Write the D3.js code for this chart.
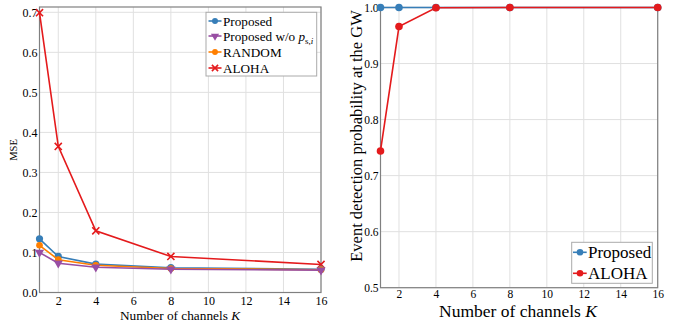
<!DOCTYPE html>
<html><head><meta charset="utf-8">
<script src="https://cdn.jsdelivr.net/npm/d3@7"></script>
<style>
body{margin:0;background:#fff;}
svg{display:block;}
text{font-family:"Liberation Serif","Times New Roman",serif !important;fill:#000;}
</style></head>
<body>
<svg id="c" width="676" height="325"></svg>
<script>
const channels = [1, 2, 4, 8, 16];
const xTicks = [2, 4, 6, 8, 10, 12, 14, 16];
const mseProposed = [0.134, 0.090, 0.071, 0.062, 0.058];
const mseNoPs = [0.100, 0.073, 0.063, 0.058, 0.056];
const mseRandom = [0.118, 0.082, 0.068, 0.060, 0.057];
const mseAloha = [0.699, 0.365, 0.154, 0.090, 0.070];
const mseTicks = [0.0, 0.1, 0.2, 0.3, 0.4, 0.5, 0.6, 0.7];
const detProposed = [1.0, 1.0, 1.0, 1.0, 1.0];
const detAloha = [0.744, 0.966, 0.9995, 1.0, 1.0];
const detTicks = [0.5, 0.6, 0.7, 0.8, 0.9, 1.0];

const C = {blue:"#377eb8", purple:"#984ea3", orange:"#ff7f00", red:"#e41a1c"};
const svg = d3.select("#c");
const GRID = "#e0e0e0", FRAME = "#808080";
const SERIF = '"Liberation Serif","Times New Roman",serif';

function marker(g, type, x, y, color, s) {
  if (type === "circle") {
    g.append("circle").attr("cx", x).attr("cy", y).attr("r", s).attr("fill", color);
  } else if (type === "tri") {
    g.append("path").attr("d", d3.symbol().type(d3.symbolTriangle).size(s*s*3.2)())
      .attr("transform", `translate(${x},${y}) rotate(180)`).attr("fill", color);
  } else if (type === "diamond") {
    g.append("path").attr("d", d3.symbol().type(d3.symbolCircle).size(s*s*3)())
      .attr("transform", `translate(${x},${y})`).attr("fill", color);
  } else if (type === "x") {
    g.append("path").attr("d", d3.symbol().type(d3.symbolTimes).size(s*s*3.4)())
      .attr("transform", `translate(${x},${y})`).attr("fill", "none")
      .attr("stroke", color).attr("stroke-width", 1.6);
  }
}

function panel(opt) {
  const x = d3.scaleLinear().domain([1, 16]).range([opt.x0, opt.x1]);
  const y = d3.scaleLinear().domain(opt.yDomain).range([opt.yb, opt.yt]);
  const g = svg.append("g");
  g.append("g").selectAll("line").data(xTicks).join("line")
    .attr("x1", d => x(d)).attr("x2", d => x(d)).attr("y1", y.range()[0]).attr("y2", opt.top)
    .attr("stroke", GRID).attr("stroke-width", 1);
  g.append("g").selectAll("line").data(opt.yTicks).join("line")
    .attr("x1", opt.x0).attr("x2", opt.x1).attr("y1", d => y(d)).attr("y2", d => y(d))
    .attr("stroke", GRID).attr("stroke-width", 1);
  g.append("rect").attr("x", opt.x0).attr("y", opt.top).attr("width", opt.x1 - opt.x0)
    .attr("height", opt.yb - opt.top).attr("fill", "none").attr("stroke", FRAME).attr("stroke-width", 1.2);
  const ax = g.append("g").attr("transform", `translate(0,${opt.yb})`)
    .call(d3.axisBottom(x).tickValues(xTicks).tickSize(0).tickPadding(opt.xPad).tickFormat(d3.format("d")));
  ax.attr("font-family", SERIF);
  ax.select(".domain").remove();
  ax.selectAll("text").style("font-size", opt.tickFont + "px").style("font-family", SERIF);
  const ay = g.append("g").attr("transform", `translate(${opt.x0},0)`)
    .call(d3.axisLeft(y).tickValues(opt.yTicks).tickSize(0).tickPadding(2).tickFormat(d3.format(".1f")));
  ay.attr("font-family", SERIF);
  ay.select(".domain").remove();
  ay.selectAll("text").style("font-size", opt.tickFont + "px").style("font-family", SERIF);
  opt.series.forEach(s => {
    const line = d3.line().x((d, i) => x(channels[i])).y(d => y(d));
    g.append("path").attr("d", line(s.values)).attr("fill", "none")
      .attr("stroke", s.color).attr("stroke-width", 1.6);
    s.values.forEach((v, i) => marker(g, s.marker, x(channels[i]), y(v), s.color, s.size));
  });
  return {g, x, y};
}

// Left panel
panel({x0: 39.5, x1: 321, yb: 292.5, yt: 12.3, top: 7, yDomain: [0, 0.7],
  yTicks: mseTicks, tickFont: 12, xPad: 4,
  series: [
    {values: mseAloha, color: C.red, marker: "x", size: 3.2},
    {values: mseProposed, color: C.blue, marker: "circle", size: 3.6},
    {values: mseRandom, color: C.orange, marker: "diamond", size: 3.4},
    {values: mseNoPs, color: C.purple, marker: "tri", size: 3.4}
  ]});
svg.append("text").attr("x", 180).attr("y", 320).attr("text-anchor", "middle")
  .style("font-size", "13.3px").html('Number of channels <tspan font-style="italic">K</tspan>');
svg.append("text").attr("transform", "translate(17,150) rotate(-90)").attr("text-anchor", "middle")
  .style("font-size", "10.5px").text("MSE");

// Left legend
const lg = svg.append("g");
lg.append("rect").attr("x", 206).attr("y", 12.3).attr("width", 110.7).attr("height", 63.7)
  .attr("fill", "#fff").attr("stroke", "#aaa").attr("stroke-width", 1);
const leftLeg = [
  {label: "Proposed", color: C.blue, marker: "circle", size: 3},
  {label: "Proposed w/o ", color: C.purple, marker: "tri", size: 3, sub: true},
  {label: "RANDOM", color: C.orange, marker: "diamond", size: 3},
  {label: "ALOHA", color: C.red, marker: "x", size: 2.8}
];
const legY = [21, 36, 52, 68];
leftLeg.forEach((d, i) => {
  const yy = legY[i];
  lg.append("line").attr("x1", 208.5).attr("x2", 221.5).attr("y1", yy).attr("y2", yy)
    .attr("stroke", d.color).attr("stroke-width", 1.6);
  marker(lg, d.marker, 215, yy, d.color, d.size);
  const t = lg.append("text").attr("x", 223).attr("y", yy + 4.5).style("font-size", "13.2px");
  t.append("tspan").text(d.label);
  if (d.sub) {
    t.append("tspan").attr("font-style", "italic").text("p");
    t.append("tspan").attr("dy", 3).style("font-size", "9px").html('s,<tspan font-style="italic">i</tspan>');
  }
});

// Right panel
panel({x0: 380.5, x1: 657.7, yb: 287.7, yt: 7.5, top: 7.5, yDomain: [0.5, 1.0],
  yTicks: detTicks, tickFont: 11.5, xPad: 2,
  series: [
    {values: detProposed, color: C.blue, marker: "circle", size: 3.8},
    {values: detAloha, color: C.red, marker: "circle", size: 3.8}
  ]});
svg.append("text").attr("x", 518).attr("y", 317).attr("text-anchor", "middle")
  .style("font-size", "17.5px").html('Number of channels <tspan font-style="italic">K</tspan>');
svg.append("text").attr("transform", "translate(362,136) rotate(-90)").attr("text-anchor", "middle")
  .style("font-size", "16.5px").text("Event detection probability at the GW");

// Right legend
const rg = svg.append("g");
rg.append("rect").attr("x", 571.7).attr("y", 242.3).attr("width", 80.6).attr("height", 41)
  .attr("fill", "#fff").attr("stroke", "#aaa").attr("stroke-width", 1);
const rightLeg = [
  {label: "Proposed", color: C.blue},
  {label: "ALOHA", color: C.red}
];
[252.3, 273.3].forEach((yy, i) => {
  const d = rightLeg[i];
  rg.append("line").attr("x1", 573).attr("x2", 586.7).attr("y1", yy).attr("y2", yy)
    .attr("stroke", d.color).attr("stroke-width", 1.6);
  marker(rg, "circle", 580, yy, d.color, 3.3);
  rg.append("text").attr("x", 588).attr("y", yy + 6).style("font-size", "17px").text(d.label);
});
</script>
</body></html>
